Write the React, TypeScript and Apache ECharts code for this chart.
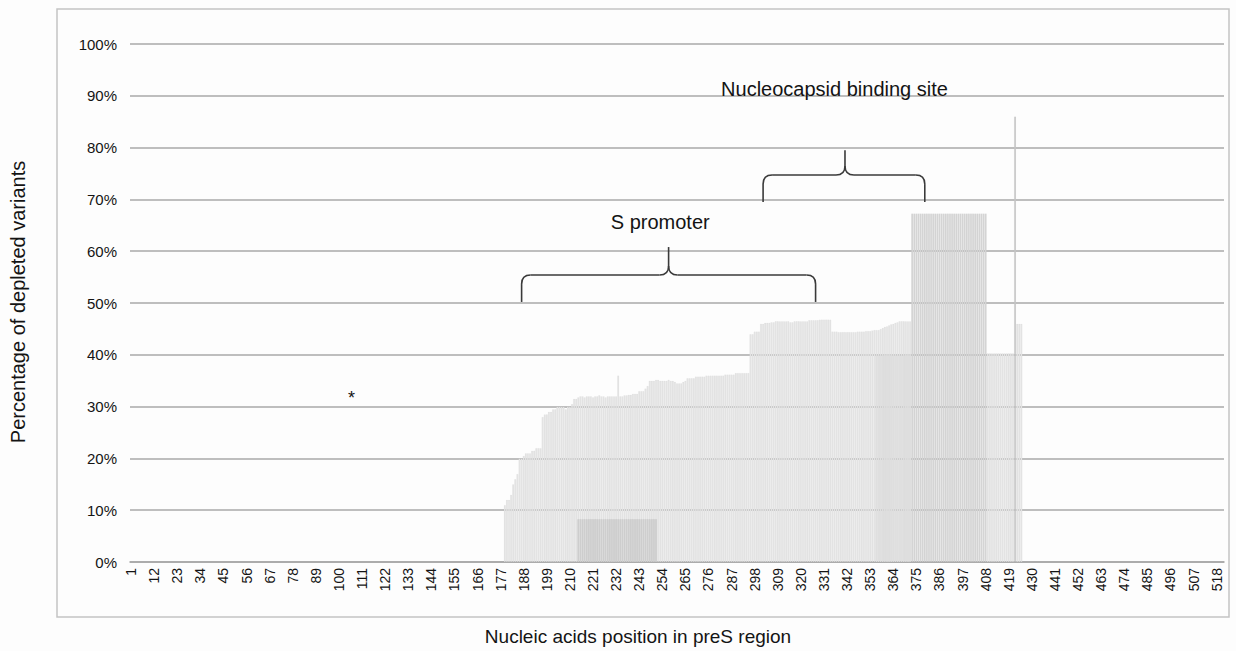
import { useEffect, useRef } from "react";
import * as echarts from "echarts";

// ---------- data ----------
const LAST_POSITION = 521;
const positions: string[] = [];
for (let p = 1; p <= LAST_POSITION; p++) positions.push(String(p));

const yTickValues = [0, 10, 20, 30, 40, 50, 60, 70, 80, 90, 100];

// percentage of depleted variants, starting at position 179
const depletedStart = 179;
const depletedValues = [
  11, 12, 12, 13,
  15, 16, 17,
  20, 20, 20.5, 21, 21, 21,
  21.5, 21.5, 22, 22, 22,
  28, 28.5, 28.5, 29, 29,
  29.5, 29.5, 30, 30, 30, 30, 29.5, 30, 30, 30.5,
  31.5, 31.5, 31.8, 32, 32, 31.8, 32, 32, 32, 31.8, 32, 32, 32.2, 32, 32, 31.8, 32, 32, 32, 32,
  32, 36,
  32, 32, 32.2, 32.2, 32.3, 32.3, 32.5, 32.5, 32.5, 33, 33, 33, 33.5, 34,
  35, 35, 35, 35.2, 35.2, 35, 35, 35, 35, 35.2, 35, 35, 34.8, 34.5, 34.5, 34.5, 34.8, 35,
  35.5, 35.5, 35.5, 35.5, 35.8, 35.8, 35.8, 35.8, 35.8, 36, 36, 36, 36, 36, 36, 36, 36, 36, 36.2, 36.2,
  36.2, 36.2, 36.2, 36.5, 36.5, 36.5, 36.5, 36.5, 36.5, 36.5,
  44, 44, 44.5, 44.5, 44.5,
  46, 46, 46.2, 46.2, 46.2, 46.3, 46.3, 46.5, 46.5, 46.5, 46.5, 46.5, 46.5, 46.5, 46.3, 46.3, 46.5,
  46.5, 46.5, 46.5, 46.5, 46.5, 46.5, 46.7, 46.7, 46.7, 46.7, 46.7, 46.8, 46.8, 46.8, 46.8, 46.8, 46.8,
  44.5, 44.5, 44.5, 44.4, 44.4, 44.4, 44.4, 44.4, 44.4, 44.4, 44.4, 44.4, 44.5, 44.5, 44.5, 44.5,
  44.6, 44.6, 44.6, 44.7, 44.8, 44.8, 44.8, 45,
  45.2, 45.4, 45.5, 45.7, 45.9, 46, 46.2, 46.3, 46.5, 46.5, 46.5, 46.5, 46.5, 46.5,
  67.3, 67.3, 67.3, 67.3, 67.3, 67.3, 67.3, 67.3, 67.3, 67.3, 67.3, 67.3, 67.3, 67.3, 67.3, 67.3, 67.3, 67.3,
  67.3, 67.3, 67.3, 67.3, 67.3, 67.3, 67.3, 67.3, 67.3, 67.3, 67.3, 67.3, 67.3, 67.3, 67.3, 67.3, 67.3, 67.3,
  40.3, 40.3, 40.3, 40.3, 40.3, 40.3, 40.3, 40.3, 40.3, 40.3, 40.3, 40.3, 40.3,
  86,
  46, 46, 46,
];

// second (overlapping) group, low block
const lowBlockStart = 214;
const lowBlockValues = [
  8.3, 8.3, 8.3, 8.3, 8.3, 8.3, 8.3, 8.3, 8.3, 8.3, 8.3, 8.3, 8.3, 8.3, 8.3, 8.3, 8.3, 8.3, 8.3,
  8.3, 8.3, 8.3, 8.3, 8.3, 8.3, 8.3, 8.3, 8.3, 8.3, 8.3, 8.3, 8.3, 8.3, 8.3, 8.3, 8.3, 8.3, 8.3,
];

// second (overlapping) group, middle block
const midBlockStart = 356;
const midBlockValues = [
  40, 40, 40, 40, 40, 40, 40, 40, 40, 40, 40, 40, 40, 40, 40, 40, 40,
];

// annotations (category position, percent)
const braces = [
  { label: "S promoter", from: 187, to: 327, base: 50.2, bar: 55.4, tip: 60.8, textPos: 253, textY: 65.6 },
  { label: "Nucleocapsid binding site", from: 302, to: 379, base: 69.5, bar: 74.7, tip: 79.5, textPos: 336, textY: 91.3 },
];
const asteriskMark = { pos: 106, value: 32.6 };

function toSeries(start: number, values: number[]): (number | null)[] {
  const arr: (number | null)[] = positions.map(() => null);
  values.forEach((v, i) => {
    arr[start - 1 + i] = v;
  });
  return arr;
}

const FONT = '"Liberation Sans", Arial, sans-serif';
const TEXT = "#141414";

export default function App() {
  const ref = useRef<HTMLDivElement>(null);

  useEffect(() => {
    if (!ref.current) return;
    const chart = echarts.init(ref.current, undefined, { renderer: "svg" });
    const barBorder = { borderColor: "rgba(0,0,0,0.045)", borderWidth: 0.5 };
    chart.setOption({
      animation: false,
      backgroundColor: "#fdfdfd",
      grid: { left: 130, right: 12, top: 44, bottom: 89, containLabel: false },
      xAxis: {
        type: "category",
        data: positions,
        axisTick: { show: false },
        axisLine: { lineStyle: { color: "#a6a6a6", width: 1.6 } },
        axisLabel: {
          interval: 10,
          rotate: 90,
          fontSize: 14,
          fontFamily: FONT,
          color: TEXT,
          margin: 6,
        },
      },
      yAxis: {
        type: "value",
        min: yTickValues[0],
        max: yTickValues[yTickValues.length - 1],
        interval: 10,
        axisLine: { show: false },
        axisTick: { show: false },
        axisLabel: {
          formatter: "{value}%",
          fontSize: 15,
          fontFamily: FONT,
          color: TEXT,
          margin: 13,
        },
        splitLine: { lineStyle: { color: "#a8a8a8", width: 1.6 } },
      },
      series: [
        {
          type: "bar",
          data: toSeries(depletedStart, depletedValues),
          barCategoryGap: "0%",
          barGap: "-100%",
          itemStyle: {
            ...barBorder,
            color: (p: any) => (p.value > 80 ? "#c8c8c8" : p.value > 60 ? "#d5d5d5" : "#e4e4e4"),
          },
        },
        {
          type: "bar",
          data: toSeries(lowBlockStart, lowBlockValues),
          barCategoryGap: "0%",
          barGap: "-100%",
          itemStyle: { ...barBorder, color: "#cfcfcf" },
        },
        {
          type: "bar",
          data: toSeries(midBlockStart, midBlockValues),
          barCategoryGap: "0%",
          barGap: "-100%",
          itemStyle: { ...barBorder, color: "#e0e0e0" },
        },
      ],
    });

    const px = (pos: number, val: number) =>
      chart.convertToPixel({ gridIndex: 0 }, [pos - 1, val]) as number[];

    const elements: any[] = [];
    elements.push({
      type: "rect",
      z: -1,
      shape: { x: 57, y: 9, width: 1172, height: 608 },
      style: { fill: "none", stroke: "#c4c4c4", lineWidth: 1.5 },
    });
    const stroke = { stroke: "#3a3a3a", lineWidth: 1.6, fill: "none" };
    braces.forEach((b) => {
      const [x1, yb] = px(b.from, b.base);
      const [x2] = px(b.to, b.base);
      const [xc, yh] = px((b.from + b.to) / 2, b.bar);
      const [, yt] = px(b.from, b.tip);
      const r = 9;
      elements.push(
        { type: "line", shape: { x1, y1: yb, x2: x1, y2: yh + r }, style: stroke },
        { type: "bezierCurve", shape: { x1, y1: yh + r, cpx1: x1, cpy1: yh, x2: x1 + r, y2: yh }, style: stroke },
        { type: "line", shape: { x1: x1 + r, y1: yh, x2: xc - r, y2: yh }, style: stroke },
        { type: "bezierCurve", shape: { x1: xc - r, y1: yh, cpx1: xc, cpy1: yh, x2: xc, y2: yh - r }, style: stroke },
        { type: "line", shape: { x1: xc, y1: yh - r, x2: xc, y2: yt }, style: stroke },
        { type: "bezierCurve", shape: { x1: xc + r, y1: yh, cpx1: xc, cpy1: yh, x2: xc, y2: yh - r }, style: stroke },
        { type: "line", shape: { x1: xc + r, y1: yh, x2: x2 - r, y2: yh }, style: stroke },
        { type: "bezierCurve", shape: { x1: x2 - r, y1: yh, cpx1: x2, cpy1: yh, x2: x2, y2: yh + r }, style: stroke },
        { type: "line", shape: { x1: x2, y1: yh + r, x2: x2, y2: yb }, style: stroke },
      );
      const [tx, ty] = px(b.textPos, b.textY);
      elements.push({
        type: "text",
        x: tx,
        y: ty,
        style: { text: b.label, fontSize: 20, fontFamily: FONT, fill: TEXT, align: "center", verticalAlign: "middle" },
      });
    });
    const [ax, ay] = px(asteriskMark.pos, asteriskMark.value);
    elements.push({
      type: "text",
      x: ax,
      y: ay + 5,
      style: { text: "*", fontSize: 18, fontFamily: FONT, fill: TEXT, align: "center", verticalAlign: "middle" },
    });
    elements.push({
      type: "text",
      x: 18,
      y: 302,
      rotation: Math.PI / 2,
      style: { text: "Percentage of depleted variants", fontSize: 20, fontFamily: FONT, fill: TEXT, align: "center", verticalAlign: "middle" },
    });
    elements.push({
      type: "text",
      x: 638,
      y: 636,
      style: { text: "Nucleic acids position in preS region", fontSize: 19, fontFamily: FONT, fill: TEXT, align: "center", verticalAlign: "middle" },
    });
    chart.setOption({ graphic: elements });

    return () => chart.dispose();
  }, []);

  return (
    <div
      ref={ref}
      style={{ position: "fixed", left: 0, top: 0, width: 1236, height: 651 }}
    />
  );
}
